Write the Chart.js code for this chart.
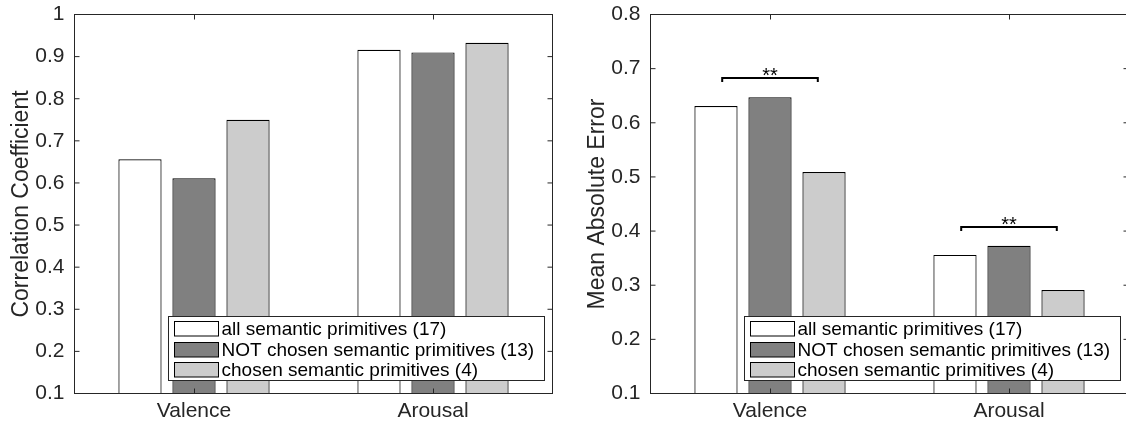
<!DOCTYPE html>
<html>
<head>
<meta charset="utf-8">
<script src="https://cdn.jsdelivr.net/npm/chart.js@4/dist/chart.umd.min.js"></script>
<style>
  html, body { margin: 0; padding: 0; background: #fff; overflow: hidden; width: 1126px; height: 424px; }
  #wrap { position: relative; width: 1126px; height: 424px; overflow: hidden; }
  #corr { position: absolute; left: 0; top: 0; }
  #mae { position: absolute; left: 563px; top: 0; }
</style>
</head>
<body>
<div id="wrap">
  <canvas id="corr" width="563" height="424"></canvas>
  <canvas id="mae" width="580" height="424"></canvas>
</div>
<script>
// Categories and series
const categories = ['Valence', 'Arousal'];
const seriesNames = [
  'all semantic primitives (17)',
  'NOT chosen semantic primitives (13)',
  'chosen semantic primitives (4)'
];
const seriesColors = ['#ffffff', '#808080', '#cccccc'];

// Correlation coefficient per series (Valence, Arousal)
const corrAll    = [0.656, 0.916];
const corrNot    = [0.611, 0.910];
const corrChosen = [0.750, 0.933];

// Mean absolute error per series (Valence, Arousal)
const maeAll    = [0.631, 0.356];
const maeNot    = [0.647, 0.373];
const maeChosen = [0.509, 0.291];

// Tick labels
const corrTickLabels = ['0.1', '0.2', '0.3', '0.4', '0.5', '0.6', '0.7', '0.8', '0.9', '1'];
const maeTickLabels  = ['0.1', '0.2', '0.3', '0.4', '0.5', '0.6', '0.7', '0.8'];

// Significance brackets on the error chart (height in data units)
const sigLevels = [0.682, 0.408];
const sigMark = '**';

const FONT = "'Liberation Sans', Arial, Helvetica, sans-serif";
const INK = '#262626';

// Box frame, inward ticks, in-plot legend and significance brackets
const framePlugin = {
  id: 'frame',
  afterDatasetsDraw(chart, args, opts) {
    const { ctx, chartArea: a, scales: { x, y } } = chart;
    const tl = opts.tickLength;
    ctx.save();
    ctx.strokeStyle = INK;
    ctx.lineWidth = 1;
    ctx.strokeRect(a.left, a.top, a.right - a.left, a.bottom - a.top);
    ctx.beginPath();
    y.ticks.forEach(t => {
      const py = y.getPixelForValue(t.value);
      ctx.moveTo(a.left, py); ctx.lineTo(a.left + tl, py);
      ctx.moveTo(a.right, py); ctx.lineTo(a.right - tl, py);
    });
    x.ticks.forEach((t, i) => {
      const px = Math.round(x.getPixelForTick(i)) + 0.5;
      ctx.moveTo(px, a.bottom); ctx.lineTo(px, a.bottom - tl);
      ctx.moveTo(px, a.top); ctx.lineTo(px, a.top + tl);
    });
    ctx.stroke();
    ctx.restore();
  },
  afterDraw(chart, args, opts) {
    const { ctx, chartArea: a, scales: { x, y } } = chart;
    ctx.save();

    // significance brackets
    if (opts.brackets) {
      const step = x.getPixelForValue(1) - x.getPixelForValue(0);
      opts.brackets.levels.forEach((lvl, i) => {
        const cx = x.getPixelForValue(i);
        const half = step * opts.brackets.span;
        const py = Math.round(y.getPixelForValue(lvl));
        ctx.strokeStyle = '#000';
        ctx.lineWidth = 2;
        ctx.beginPath();
        ctx.moveTo(cx - half, py + 4);
        ctx.lineTo(cx - half, py);
        ctx.lineTo(cx + half, py);
        ctx.lineTo(cx + half, py + 4);
        ctx.stroke();
        ctx.fillStyle = '#000';
        ctx.font = opts.brackets.fontSize + 'px ' + FONT;
        ctx.textAlign = 'center';
        ctx.textBaseline = 'alphabetic';
        ctx.fillText(opts.brackets.mark, cx, py + opts.brackets.textDrop);
      });
    }

    // legend box
    const lg = opts.legend;
    ctx.font = lg.fontSize + 'px ' + FONT;
    const items = chart.data.datasets;
    const maxW = Math.max(...items.map(d => ctx.measureText(d.label).width));
    const boxL = Math.round(a.left + lg.offsetLeft) + 0.5;
    const boxW = Math.round(lg.swatchLeft + lg.swatchW + lg.textGap + maxW + lg.padRight);
    const boxH = lg.rowPitch * items.length + lg.padV;
    const boxT = Math.round(a.bottom - lg.offsetBottom - boxH) + 0.5;
    ctx.fillStyle = '#fff';
    ctx.fillRect(boxL, boxT, boxW, boxH);
    ctx.strokeStyle = INK;
    ctx.lineWidth = 1;
    ctx.strokeRect(boxL, boxT, boxW, boxH);
    items.forEach((d, i) => {
      const sy = Math.round(boxT + lg.firstRow + i * lg.rowPitch) + 0.5;
      const sx = Math.round(boxL + lg.swatchLeft) + 0.5;
      ctx.fillStyle = d.backgroundColor;
      ctx.fillRect(sx, sy, lg.swatchW, lg.swatchH);
      ctx.strokeStyle = '#000';
      ctx.strokeRect(sx, sy, lg.swatchW, lg.swatchH);
      ctx.fillStyle = '#000';
      ctx.textAlign = 'left';
      ctx.textBaseline = 'middle';
      ctx.fillText(d.label, sx + lg.swatchW + lg.textGap, sy + lg.swatchH / 2 + 1);
    });
    ctx.restore();
  }
};

function makeDatasets(values, base) {
  return seriesNames.map((name, i) => ({
    label: name,
    data: values[i],
    backgroundColor: seriesColors[i],
    borderColor: '#000',
    borderWidth: 1.2,
    barPercentage: 0.8,
    categoryPercentage: 0.678,
    base: base
  }));
}

function makeChart(canvasId, values, yMin, yMax, tickLabels, title, layout, extra) {
  return new Chart(document.getElementById(canvasId), {
    type: 'bar',
    data: { labels: categories, datasets: makeDatasets(values, yMin) },
    options: {
      responsive: false,
      animation: false,
      devicePixelRatio: 1,
      layout: { padding: { top: 14.5, right: layout.padRight, bottom: 0, left: 0 } },
      scales: {
        x: {
          type: 'category',
          offset: true,
          grid: { display: false, drawTicks: false },
          border: { display: false },
          ticks: { color: INK, font: { family: FONT, size: 21 }, padding: 5, maxRotation: 0 },
          afterFit(s) { s.height = 30.5; s.paddingLeft = 0; s.paddingRight = 0; }
        },
        y: {
          min: yMin,
          max: yMax,
          grid: { display: false, drawTicks: false },
          border: { display: false },
          ticks: {
            stepSize: 0.1,
            autoSkip: false,
            color: INK,
            padding: 10,
            font: { family: FONT, size: 21 },
            callback: v => tickLabels.find(l => Math.abs(parseFloat(l) - v) < 1e-6) ?? ''
          },
          title: {
            display: true,
            text: title,
            color: INK,
            font: { family: FONT, size: 23 },
            padding: { top: layout.titlePad, bottom: 0 }
          },
          afterFit(s) { s.width = layout.yWidth; s.paddingTop = 0; s.paddingBottom = 0; }
        }
      },
      plugins: {
        legend: { display: false },
        tooltip: { enabled: false },
        frame: Object.assign({
          tickLength: 5,
          legend: {
            fontSize: 19, offsetLeft: 93.2, offsetBottom: 13.5,
            swatchLeft: 5, swatchW: 44, swatchH: 14.5, textGap: 3,
            padRight: 11, rowPitch: 20.5, firstRow: 4.5, padV: 2.5
          }
        }, extra)
      }
    },
    plugins: [framePlugin]
  });
}

makeChart('corr', [corrAll, corrNot, corrChosen], 0.1, 1, corrTickLabels,
  'Correlation Coefficient', { padRight: 10.5, yWidth: 74.5, titlePad: 7.5 }, {});

makeChart('mae', [maeAll, maeNot, maeChosen], 0.1, 0.8, maeTickLabels,
  'Mean Absolute Error', { padRight: 14.5, yWidth: 87.5, titlePad: 21 },
  { brackets: { levels: sigLevels, mark: sigMark, span: 0.2, fontSize: 20, textDrop: 4 } });
</script>
</body>
</html>
